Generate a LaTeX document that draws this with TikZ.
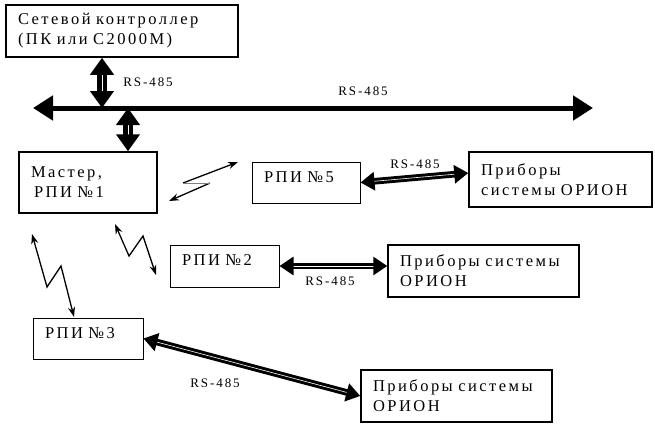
\documentclass[tikz,border=0pt]{standalone}
\usepackage{fontspec}
\setmainfont{Liberation Serif}
\newfontfamily\spaced[LetterSpace=15]{Liberation Serif}
\usetikzlibrary{arrows.meta, calc}

\begin{document}
\begin{tikzpicture}[x=1pt, y=-1pt, >={Stealth[length=10pt, width=7pt]},
  blk/.style={draw, line width=1.5pt, inner xsep=12pt, inner ysep=0pt, align=left,
    font=\spaced\fontsize{16.5}{20}\selectfont},
  rpi/.style={blk, line width=1pt, text height=12pt, text depth=13pt},
  lbl/.style={font=\spaced\fontsize{13}{15}\selectfont},
  tap/.style={double, double distance=0.7pt, line width=4.6pt,
    {Triangle[length=17pt, width=23pt]}-{Triangle[length=17pt, width=23pt]}},
  link/.style={double, double distance=0.6pt, line width=3pt,
    {Triangle[length=14pt, width=18pt]}-{Triangle[length=14pt, width=18pt]}},
  wave/.style={line width=1.3pt}]
  \useasboundingbox (0,0) rectangle (655,423);

  % blocks
  \node[blk, text width=208pt, minimum height=52pt] (ctrl) at (122,31) {Сетевой контроллер\\(ПК или С2000М)};
  \node[blk, text width=114pt, minimum height=61pt] (master) at (88,182.5) {Мастер,\\\hspace*{3pt}РПИ №1};
  \node[rpi, text width=84pt, minimum height=41pt] (rpi5) at (306,182.5) {РПИ №5};
  \node[blk, text width=159pt, minimum height=55pt] (orion1) at (560.5,179.5) {Приборы\\системы ОРИОН};
  \node[rpi, text width=85pt, minimum height=42pt] (rpi2) at (224.5,266) {РПИ №2};
  \node[blk, text width=167pt, minimum height=52pt] (orion2) at (483.5,271) {Приборы системы\\ОРИОН};
  \node[rpi, text width=86pt, minimum height=41pt] (rpi3) at (88,338.5) {РПИ №3};
  \node[blk, text width=167pt, minimum height=52pt] (orion3) at (456.5,396) {Приборы системы\\ОРИОН};

  % RS-485 bus
  \coordinate (busL) at (33,108);
  \coordinate (busR) at (593,108);
  \coordinate (tapA) at (102,108);
  \coordinate (tapB) at (128,108);
  \draw[line width=5pt, {Triangle[length=20pt, width=24pt]}-{Triangle[length=20pt, width=24pt]}] (busL) -- (busR);
  \draw[tap] (tapA |- ctrl.south) -- (tapA);
  \draw[tap] (tapB) -- (tapB |- master.north);
  \node[lbl] (busnote) at (363,91) {RS-485};
  \node[lbl] (tapnote) at (148,82) {RS-485};

  % wired links
  \draw[link] (rpi5.east) -- ([yshift=6.5pt]orion1.west);
  \draw[link] (rpi2.east) -- (rpi2.east -| orion2.west);
  \draw[link] (rpi3.east) -- (orion3.west);
  \node[lbl] (note5) at (415,164) {RS-485};
  \node[lbl] (note2) at (330,281) {RS-485};
  \node[lbl] (note3) at (215,383) {RS-485};

  % radio links
  \coordinate (r5a) at (183,183);
  \coordinate (r5b) at (210,183);
  \coordinate (r5tip) at (238,162);
  \coordinate (m5tip) at (169,201);
  \draw[wave, ->] (r5a) -- (r5tip);
  \draw[wave, ->] (r5b) -- (m5tip);
  \draw[gray, line width=1pt] (r5a) -- (r5b);
  \coordinate (m2tip) at (115,224);
  \coordinate (r2tip) at (156,275);
  \draw[wave, <->] (m2tip) -- (129,256) -- (143,236) -- (r2tip);
  \coordinate (m3tip) at (32,234);
  \coordinate (r3tip) at (74,317);
  \draw[wave, <->] (m3tip) -- (47,287) -- (61,266) -- (r3tip);
\end{tikzpicture}
\end{document}
